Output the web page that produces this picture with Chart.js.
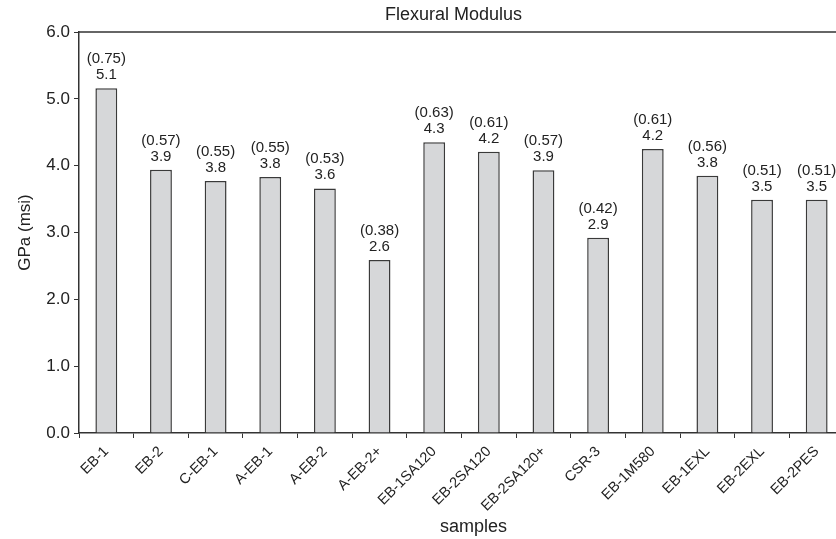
<!DOCTYPE html>
<html>
<head>
<meta charset="utf-8">
<script src="https://cdn.jsdelivr.net/npm/chart.js@4"></script>
<style>
  html, body { margin: 0; padding: 0; background: #fff; overflow: hidden; }
  #wrap { width: 846px; height: 539px; }
</style>
</head>
<body>
<div id="wrap"><canvas id="flexChart" width="846" height="539"></canvas></div>
<script>
const samples = ["EB-1", "EB-2", "C-EB-1", "A-EB-1", "A-EB-2", "A-EB-2+", "EB-1SA120",
  "EB-2SA120", "EB-2SA120+", "CSR-3", "EB-1M580", "EB-1EXL", "EB-2EXL", "EB-2PES"];
const modulus = [5.16, 3.94, 3.77, 3.83, 3.66, 2.59, 4.35, 4.21, 3.93, 2.92, 4.25, 3.85, 3.49, 3.49];
const meanLabels = ["5.1", "3.9", "3.8", "3.8", "3.6", "2.6", "4.3", "4.2", "3.9", "2.9", "4.2", "3.8", "3.5", "3.5"];
const sdLabels = ["(0.75)", "(0.57)", "(0.55)", "(0.55)", "(0.53)", "(0.38)", "(0.63)",
  "(0.61)", "(0.57)", "(0.42)", "(0.61)", "(0.56)", "(0.51)", "(0.51)"];
const chartTitle = "Flexural Modulus";
const xTitle = "samples";

const FONT = "'Liberation Sans', Arial, Helvetica, sans-serif";
const INK = "#222";

// top frame line, titles and two-line value labels above each bar
const extras = {
  id: "extras",
  afterDraw(chart) {
    const { ctx, chartArea } = chart;
    const mid = (chartArea.left + chartArea.right) / 2;
    ctx.save();
    ctx.strokeStyle = "#333";
    ctx.lineWidth = 1.5;
    ctx.beginPath();
    ctx.moveTo(chartArea.left, chartArea.top);
    ctx.lineTo(chartArea.right + 10, chartArea.top);
    ctx.stroke();

    ctx.fillStyle = INK;
    ctx.textAlign = "center";
    ctx.textBaseline = "middle";
    ctx.font = "18px " + FONT;
    ctx.fillText(chartTitle, mid - 8, 15);
    ctx.fillText(xTitle, mid + 12, 527);

    ctx.font = "15px " + FONT;
    ctx.textBaseline = "alphabetic";
    chart.getDatasetMeta(0).data.forEach((bar, i) => {
      ctx.fillText(meanLabels[i], bar.x, bar.y - 9);
      ctx.fillText(sdLabels[i], bar.x, bar.y - 25);
    });
    ctx.restore();
  },
};

new Chart(document.getElementById("flexChart"), {
  type: "bar",
  data: {
    labels: samples,
    datasets: [
      {
        label: chartTitle,
        data: modulus,
        backgroundColor: "#d6d7d9",
        borderColor: "#3a3a3a",
        borderWidth: 1.5,
        barPercentage: 0.4,
        categoryPercentage: 1,
      },
    ],
  },
  options: {
    responsive: false,
    animation: false,
    devicePixelRatio: 1,
    layout: { padding: { top: 32, right: 2 } },
    plugins: {
      legend: { display: false },
      tooltip: { enabled: false },
      title: { display: false },
    },
    scales: {
      x: {
        grid: { display: true, drawOnChartArea: false, drawTicks: true, tickLength: 5, color: "#333", offset: true },
        border: { display: true, color: "#333", width: 1.5 },
        ticks: {
          color: INK,
          font: { family: FONT, size: 14.5 },
          maxRotation: 45,
          minRotation: 45,
          autoSkip: false,
          padding: 5,
        },
        afterFit: (scale) => { scale.height = 106; },
      },
      y: {
        min: 0,
        max: 6,
        grid: { display: true, drawOnChartArea: false, drawTicks: true, tickLength: 5, color: "#333" },
        border: { display: true, color: "#333", width: 1.5 },
        ticks: {
          stepSize: 1,
          color: INK,
          font: { family: FONT, size: 17 },
          padding: 4,
          callback: (v) => Number(v).toFixed(1),
        },
        title: {
          display: true,
          text: "GPa (msi)",
          color: INK,
          font: { family: FONT, size: 17 },
          padding: { top: 15, bottom: 0 },
        },
        afterFit: (scale) => { scale.width = 79; },
      },
    },
  },
  plugins: [extras],
});
</script>
</body>
</html>
